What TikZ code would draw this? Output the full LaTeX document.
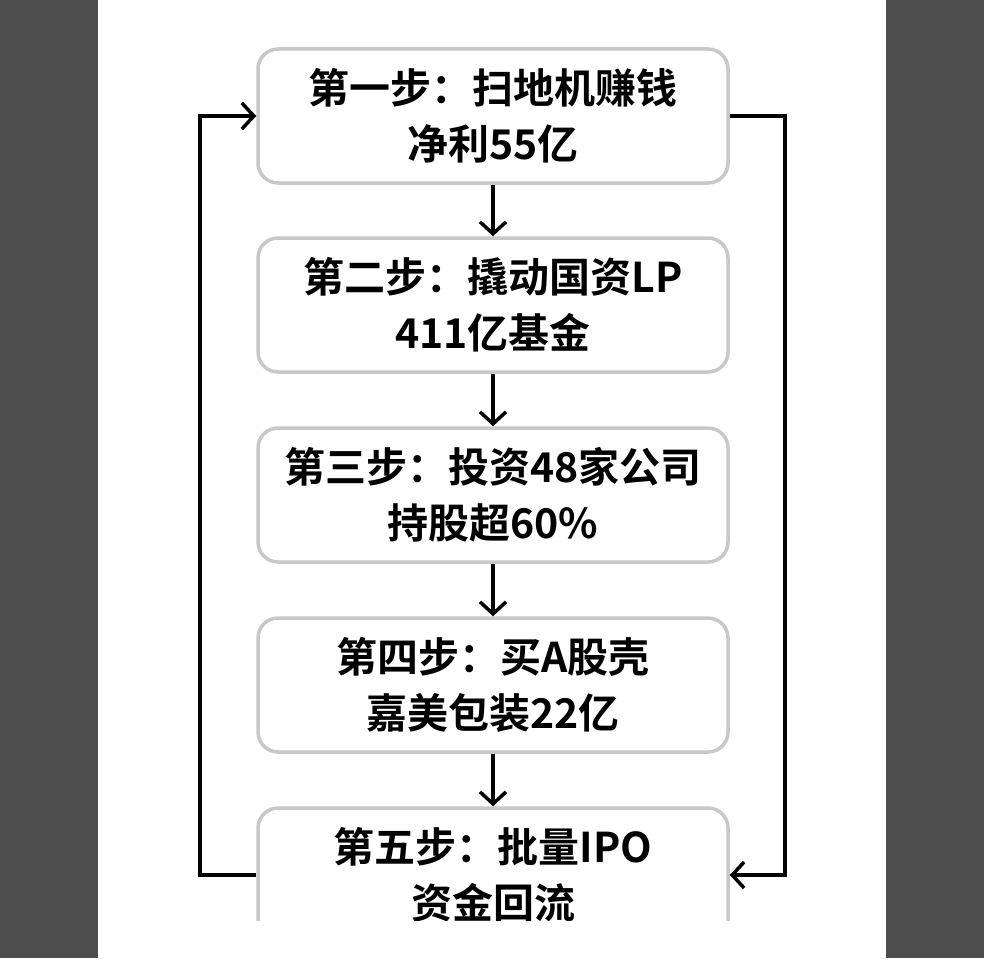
\documentclass[tikz,border=0pt]{standalone}
\usepackage{fontspec}
\newfontfamily\cjk{Noto Sans CJK SC Bold}
\usetikzlibrary{positioning,arrows.meta}
\definecolor{bandgray}{RGB}{77,77,77}
\definecolor{boxgray}{RGB}{200,200,200}
\tikzset{
  stepbox/.style={draw=boxgray, line width=3.5pt, rounded corners=20pt, fill=white,
    minimum width=470pt, minimum height=134pt, align=center,
    font=\cjk\fontsize{41pt}{56pt}\selectfont},
  flow/.style={line width=3.5pt, -{Straight Barb[length=12pt,width=26pt]}}
}
\begin{document}
\begin{tikzpicture}[x=1pt,y=-1pt]
		\useasboundingbox (0,0) rectangle (984,958);
		\fill[bandgray] (0,0) rectangle (98,958);
		\fill[bandgray] (886,0) rectangle (984,958);
		\node[stepbox] (s1) at (493,116) {第一步：扫地机赚钱\\净利55亿};
		\node[stepbox] (s2) at (493,305) {第二步：撬动国资LP\\411亿基金};
		\node[stepbox] (s3) at (493,495) {第三步：投资48家公司\\持股超60\%};
		\node[stepbox] (s4) at (493,685) {第四步：买A股壳\\嘉美包装22亿};
		\begin{scope}
		\clip (98,780) rectangle (886,920);
		\node[stepbox] (s5) at (493,875) {第五步：批量IPO\\资金回流};
		\end{scope}
		\draw[flow] (s1) -- (s2);
		\draw[flow] (s2) -- (s3);
		\draw[flow] (s3) -- (s4);
		\draw[flow] (s4) -- (s5);
		% loop back on both sides
		\draw[flow] (s5.west) -| (200,116) -- (s1.west);
		\draw[flow] (s1.east) -| (785,875) -- (s5.east);
		\end{tikzpicture}
\end{document}
